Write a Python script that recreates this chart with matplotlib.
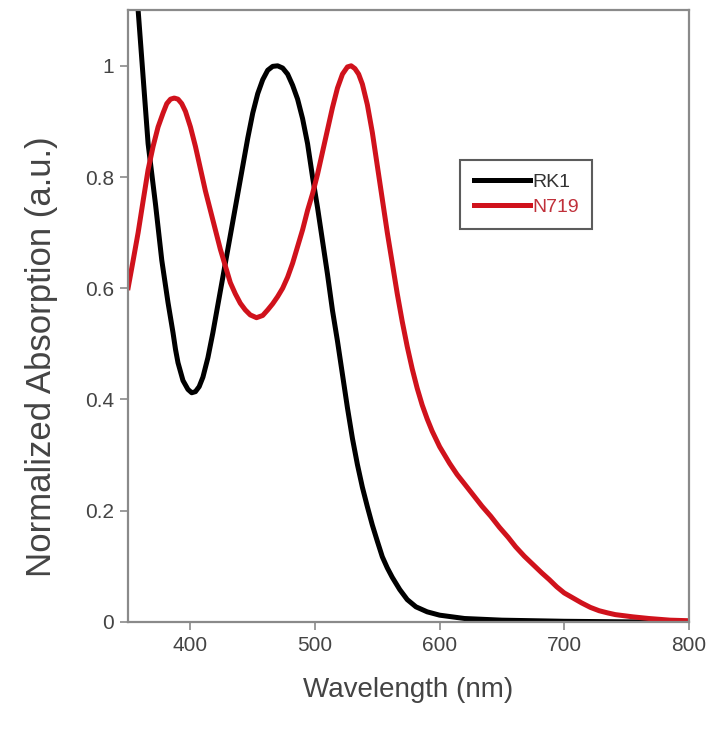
import matplotlib
matplotlib.use("Agg")
import matplotlib.pyplot as plt

plt.rcParams["font.family"] = ["Liberation Sans", "DejaVu Sans"]

# RK1 absorption
rk1_wl = [350, 355, 358, 361, 366, 372, 377, 382, 386, 388, 390, 394, 398, 401,
          404, 407, 410, 414, 418, 422, 426, 430, 434, 438, 442, 446, 450, 454,
          458, 462, 466, 470, 474, 478, 482, 486, 490, 494, 498, 502, 506, 510,
          514, 518, 522, 526, 530, 534, 538, 542, 546, 550, 554, 558, 562, 568,
          574, 581, 590, 600, 620, 650, 700, 750, 800]
rk1_abs = [1.40, 1.22, 1.10, 1.01, 0.86, 0.75, 0.65, 0.574, 0.52, 0.49, 0.466,
           0.434, 0.418, 0.412, 0.414, 0.423, 0.44, 0.475, 0.52, 0.57, 0.62,
           0.67, 0.72, 0.77, 0.82, 0.87, 0.915, 0.95, 0.975, 0.992, 0.999, 1.0,
           0.996, 0.985, 0.965, 0.94, 0.905, 0.86, 0.80, 0.745, 0.685, 0.625,
           0.56, 0.505, 0.445, 0.385, 0.33, 0.283, 0.242, 0.207, 0.174, 0.145,
           0.117, 0.097, 0.08, 0.058, 0.04, 0.027, 0.018, 0.012, 0.006, 0.003,
           0.001, 0.0, 0.0]

# N719 absorption
n719_wl = [350, 354, 358, 362, 366, 370, 374, 378, 381, 384, 387, 390, 393, 396,
           400, 404, 408, 412, 416, 420, 424, 428, 432, 436, 440, 444, 448, 453,
           458, 462, 466, 470, 474, 478, 482, 486, 490, 494, 498, 502, 506, 510,
           514, 518, 522, 526, 529, 532, 535, 538, 542, 546, 550, 554, 558, 562,
           566, 570, 574, 578, 582, 586, 590, 594, 600, 608, 614, 620, 627, 634,
           641, 648, 655, 661, 668, 675, 682, 688, 694, 700, 707, 714, 721, 728,
           735, 741, 755, 768, 785, 800]
n719_abs = [0.601, 0.65, 0.70, 0.757, 0.813, 0.855, 0.89, 0.915, 0.932, 0.94,
            0.942, 0.94, 0.932, 0.918, 0.89, 0.855, 0.815, 0.775, 0.74, 0.705,
            0.67, 0.64, 0.61, 0.59, 0.573, 0.561, 0.552, 0.547, 0.551, 0.561,
            0.572, 0.585, 0.60, 0.62, 0.645, 0.675, 0.705, 0.74, 0.77, 0.805,
            0.845, 0.885, 0.925, 0.96, 0.985, 0.998, 1.0, 0.995, 0.985, 0.967,
            0.93, 0.88, 0.82, 0.76, 0.70, 0.645, 0.59, 0.54, 0.495, 0.455, 0.42,
            0.39, 0.365, 0.343, 0.315, 0.285, 0.265, 0.248, 0.228, 0.208, 0.19,
            0.17, 0.152, 0.135, 0.118, 0.103, 0.088, 0.076, 0.063, 0.052, 0.043,
            0.034, 0.026, 0.02, 0.016, 0.013, 0.009, 0.006, 0.003, 0.002]

x_ticks = [400, 500, 600, 700, 800]
y_ticks = [0, 0.2, 0.4, 0.6, 0.8, 1]
y_tick_labels = ["0", "0.2", "0.4", "0.6", "0.8", "1"]


def main():
    fig = plt.figure(figsize=(7.16, 7.29), dpi=100)
    ax = fig.add_axes([0.179, 0.147, 0.783, 0.839])

    ax.plot(rk1_wl, rk1_abs, color="black", linewidth=3.6, label="RK1")
    ax.plot(n719_wl, n719_abs, color="#d0121c", linewidth=3.6, label="N719")

    ax.set_xlim(350, 800)
    ax.set_ylim(0, 1.1)
    ax.set_xticks(x_ticks)
    ax.set_yticks(y_ticks)
    ax.set_yticklabels(y_tick_labels)

    for side in ["left", "bottom", "top", "right"]:
        ax.spines[side].set_color("#8a8a8a")
        ax.spines[side].set_linewidth(1.6)
    ax.tick_params(axis="both", direction="out", length=6, width=1.2,
                   colors="#8a8a8a", labelcolor="#444444", labelsize=15,
                   pad=4)
    ax.tick_params(top=False, right=False)

    ax.set_xlabel("Wavelength (nm)", fontsize=20, color="#444444", labelpad=16)
    ax.set_ylabel("Normalized Absorption (a.u.)", fontsize=25, color="#444444")
    ax.yaxis.set_label_coords(-0.125, 0.433)

    leg = ax.legend(loc="upper left", bbox_to_anchor=(0.592, 0.755),
                    fontsize=14, handlelength=2.9, handletextpad=0.1,
                    frameon=True, fancybox=False, borderpad=0.7,
                    labelspacing=0.35, borderaxespad=0)
    leg.get_frame().set_edgecolor("#333333")
    leg.get_frame().set_linewidth(1.5)
    leg.get_texts()[0].set_color("#333333")
    leg.get_texts()[1].set_color("#c0303a")

    fig.savefig("out.png", dpi=100)
    plt.close(fig)


if __name__ == "__main__":
    main()
